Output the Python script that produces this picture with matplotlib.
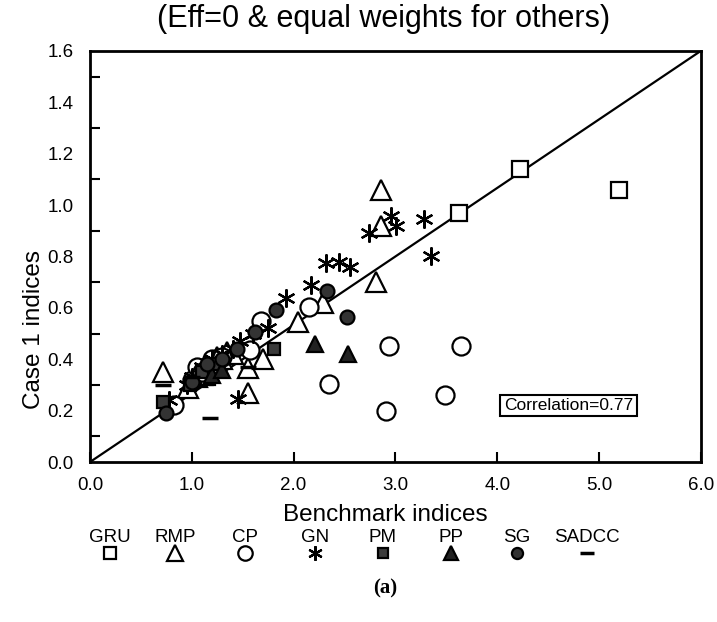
import matplotlib

matplotlib.use("Agg")

import matplotlib.pyplot as plt

plt.rcParams['font.family'] = ['Liberation Sans', 'DejaVu Sans']

# benchmark indices (x) against case 1 indices (y), one pair of lists per group
gru_x = [4.22, 3.62, 5.20, 1.15]
gru_y = [1.14, 0.97, 1.06, 0.33]

rmp_x = [0.72, 0.96, 1.05, 1.10, 1.20, 1.25, 1.30, 1.35, 1.40, 1.55, 1.55, 1.70, 2.04, 2.29, 2.81, 2.86, 2.86]
rmp_y = [0.35, 0.29, 0.33, 0.34, 0.38, 0.41, 0.40, 0.43, 0.42, 0.364, 0.27, 0.40, 0.545, 0.62, 0.70, 0.92, 1.06]

cp_x = [0.83, 1.00, 1.05, 1.10, 1.20, 1.30, 1.57, 1.68, 2.15, 2.35, 2.91, 2.94, 3.49, 3.64]
cp_y = [0.22, 0.32, 0.37, 0.35, 0.40, 0.41, 0.435, 0.55, 0.605, 0.305, 0.197, 0.45, 0.26, 0.453]

gn_x = [0.78, 0.95, 1.00, 1.10, 1.20, 1.30, 1.40, 1.45, 1.47, 1.60, 1.75, 1.93, 2.17, 2.32, 2.45, 2.55,
        2.74, 2.96, 3.01, 3.28, 3.35]
gn_y = [0.24, 0.30, 0.33, 0.37, 0.40, 0.42, 0.44, 0.246, 0.47, 0.50, 0.52, 0.64, 0.69, 0.775, 0.78, 0.76,
        0.89, 0.957, 0.92, 0.944, 0.80]

pm_x = [0.72, 0.98, 1.10, 1.25, 1.81]
pm_y = [0.234, 0.30, 0.35, 0.38, 0.44]

pp_x = [1.20, 1.30, 2.21, 2.53]
pp_y = [0.34, 0.36, 0.46, 0.42]

sg_x = [0.75, 1.00, 1.15, 1.30, 1.44, 1.62, 1.83, 2.33, 2.52]
sg_y = [0.19, 0.31, 0.38, 0.40, 0.44, 0.507, 0.59, 0.666, 0.563]

sadcc_x = [0.72, 1.00, 1.18, 1.55]
sadcc_y = [0.30, 0.33, 0.17, 0.37]

groups = ["GRU", "RMP", "CP", "GN", "PM", "PP", "SG", "SADCC"]
xs = [gru_x, rmp_x, cp_x, gn_x, pm_x, pp_x, sg_x, sadcc_x]
ys = [gru_y, rmp_y, cp_y, gn_y, pm_y, pp_y, sg_y, sadcc_y]

# equal-index reference line
diag_x = [0.0, 6.0]
diag_y = [0.0, 1.6]

correlation = 0.77

styles = {
    "GRU": dict(marker="s", mfc="white", ms=11),
    "RMP": dict(marker="^", mfc="white", ms=15),
    "CP": dict(marker="o", mfc="white", ms=13),
    "GN": dict(marker=(6, 2, 0), mfc="black", ms=13),
    "PM": dict(marker="s", mfc="#3a3a3a", ms=9),
    "PP": dict(marker="^", mfc="#222222", ms=12),
    "SG": dict(marker="o", mfc="#333333", ms=10),
    "SADCC": dict(marker="_", mfc="black", ms=12, mew=2.5),
}

fig = plt.figure(figsize=(7.17, 6.22), dpi=100)
ax = fig.add_axes([0.1255, 0.2572, 0.852, 0.661])

ax.plot(diag_x, diag_y, color="black", lw=1.6, zorder=1)

for name, x, y in zip(groups, xs, ys):
    st = dict(mec="black", mew=1.6, ls="none")
    st.update(styles[name])
    ax.plot(x, y, zorder=3, **st)

ax.set_xlim(0, 6)
ax.set_ylim(0, 1.6)
for sp in ax.spines.values():
    sp.set_linewidth(2)

ax.set_xticks([0, 1, 2, 3, 4, 5, 6])
ax.set_xticklabels(["%.1f" % v for v in [0, 1, 2, 3, 4, 5, 6]])
ax.set_yticks([0.2 * i for i in range(9)])
ax.set_yticklabels(["%.1f" % (0.2 * i) for i in range(9)])
ax.set_yticks([0.1 + 0.2 * i for i in range(8)], minor=True)
ax.tick_params(axis="x", direction="in", length=7, width=1.5, labelsize=13.5, pad=11)
ax.tick_params(axis="y", which="major", length=0, labelsize=13.5, pad=12)
ax.tick_params(axis="y", which="minor", direction="in", length=7, width=1.5)

ax.text(4.7, 0.22, "Correlation=%.2f" % correlation, ha="center", va="center", fontsize=12.5,
        bbox=dict(boxstyle="square,pad=0.2", fc="white", ec="black", lw=1.5), zorder=4)

fig.text(0.535, 0.969, "(Eff=0 & equal weights for others)", ha="center", va="center", fontsize=22)
fig.text(0.047, 0.47, "Case 1 indices", rotation=90, ha="center", va="center", fontsize=17.5)
fig.text(0.537, 0.172, "Benchmark indices", ha="center", va="center", fontsize=17.5)

# group key under the axis: name above, symbol below
key_x = [110, 175, 245, 315, 383, 451, 517, 587]
for name, kx in zip(groups, key_x):
    fig.text(kx / 717, 1 - 537 / 622, name, ha="center", va="center", fontsize=13.5)
    st = dict(mec="black", mew=1.6, ls="none")
    st.update(styles[name])
    st["ms"] = st["ms"] * 0.8
    fig.lines.append(matplotlib.lines.Line2D([kx / 717], [1 - 553 / 622], transform=fig.transFigure, **st))

fig.text(0.537, 1 - 588 / 622, "(a)", ha="center", va="center", fontsize=15, fontweight="bold",
         family=["Liberation Serif", "DejaVu Serif"])

fig.savefig("out.png", dpi=100)
